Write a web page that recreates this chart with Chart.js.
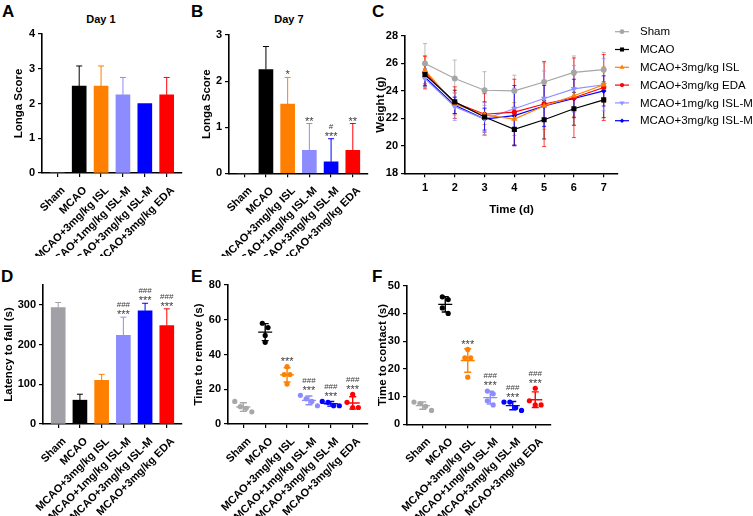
<!DOCTYPE html>
<html>
<head>
<meta charset="utf-8">
<script src="https://cdn.jsdelivr.net/npm/chart.js@4.4.1/dist/chart.umd.min.js"></script>
<style>
  body { margin: 0; background: #fff; }
  #fig { position: relative; width: 753px; height: 516px; overflow: hidden; font-family: "Liberation Sans", Arial, sans-serif; }
  #fig canvas { position: absolute; }
  .lbl { position: absolute; font-weight: bold; font-size: 17px; line-height: 17px; color: #000; }
  .ttl { position: absolute; font-weight: bold; font-size: 11px; line-height: 11px; width: 60px; text-align: center; color: #000; }
</style>
</head>
<body>
<div id="fig">
  <div class="lbl" style="left:2px;top:3px">A</div>
  <div class="lbl" style="left:191px;top:3px">B</div>
  <div class="lbl" style="left:372px;top:3px">C</div>
  <div class="lbl" style="left:1px;top:268px">D</div>
  <div class="lbl" style="left:191px;top:268px">E</div>
  <div class="lbl" style="left:372px;top:268px">F</div>
  <div class="ttl" style="left:71px;top:14px">Day 1</div>
  <div class="ttl" style="left:259px;top:14px">Day 7</div>
</div>
<script>
// group names shared by the bar / dot panels
const groups = ['Sham', 'MCAO', 'MCAO+3mg/kg ISL', 'MCAO+1mg/kg ISL-M', 'MCAO+3mg/kg ISL-M', 'MCAO+3mg/kg EDA'];

// A - Longa score day 1 (mean, SD)
const day1Score = [0, 2.5, 2.5, 2.25, 2.0, 2.25];
const day1SD = [0, 0.58, 0.58, 0.5, 0, 0.5];

// B - Longa score day 7
const day7Score = [0, 2.25, 1.5, 0.5, 0.25, 0.5];
const day7SD = [0, 0.5, 0.58, 0.58, 0.5, 0.58];
const day7Stars = ['', '', '*', '**', '***', '**'];
const day7Hash = ['', '', '', '', '#', ''];

// C - body weight over time
const days = [1, 2, 3, 4, 5, 6, 7];
const weightSeries = ['Sham', 'MCAO', 'MCAO+3mg/kg ISL', 'MCAO+3mg/kg EDA', 'MCAO+1mg/kg ISL-M', 'MCAO+3mg/kg ISL-M'];
const weightSham = [26.0, 24.9, 24.05, 24.0, 24.65, 25.35, 25.55];
const weightShamSD = [1.45, 1.35, 1.35, 1.15, 1.4, 1.2, 1.25];
const weightMCAO = [25.2, 23.2, 22.1, 21.2, 21.9, 22.7, 23.35];
const weightMCAOSD = [0.9, 0.85, 1.1, 1.15, 1.4, 1.2, 1.3];
const weightISL = [25.5, 23.05, 22.25, 21.95, 22.9, 23.65, 24.45];
const weightISLSD = [1.0, 0.8, 0.7, 1.2, 1.7, 1.5, 1.3];
const weightEDA = [25.35, 23.15, 22.3, 22.45, 23.05, 23.5, 24.25];
const weightEDASD = [1.2, 1.15, 1.5, 2.4, 3.1, 2.9, 2.4];
const weightISLM1 = [24.9, 22.85, 21.95, 22.7, 23.45, 24.15, 24.45];
const weightISLM1SD = [0.6, 1.0, 1.2, 1.5, 2.0, 1.7, 1.9];
const weightISLM3 = [25.0, 22.95, 21.95, 22.2, 22.9, 23.45, 24.0];
const weightISLM3SD = [0.6, 0.6, 0.8, 2.2, 1.5, 1.4, 1.1];

// D - rotarod latency
const latency = [293, 60, 110, 223, 285, 248];
const latencySD = [13, 15, 15, 46, 19, 42];
const latencyStars = ['', '', '', '***', '***', '***'];
const latencyHash = ['', '', '', '###', '###', '###'];

// E - adhesive removal, individual animals per group
const removeTimes = [[13, 10, 9, 7], [58, 55.5, 51, 47], [33, 28.5, 28.5, 23], [16.5, 14.5, 13, 10.5], [13, 12.5, 10.5, 10.5], [17, 12.5, 9.5, 9.5]];
const removeStars = ['', '', '***', '***', '***', '***'];
const removeHash = ['', '', '', '###', '###', '###'];

// F - time to contact
const contactTimes = [[8, 7.5, 6.5, 5], [46, 45, 42, 40], [27, 24, 24, 17], [12, 11, 8.5, 7], [8, 8, 6, 5], [13, 8.5, 7, 7]];
const contactStars = ['', '', '***', '***', '***', '***'];
const contactHash = ['', '', '', '###', '###', '###'];

const FONT = '"Liberation Sans", Arial, sans-serif';
const barColors = ['#a0a0a6', '#000000', '#ff8000', '#8c8cff', '#0000ff', '#ff0000'];
const dotColors = ['#a8a8a8', '#000000', '#ff8000', '#8c8cff', '#0000ff', '#ff0000'];

Chart.defaults.font.family = FONT;
Chart.defaults.color = '#000';
Chart.defaults.animation = false;
Chart.defaults.events = [];
Chart.defaults.plugins.legend.display = false;
Chart.defaults.plugins.tooltip.enabled = false;

function place(box) {
  const c = document.createElement('canvas');
  c.width = box.w; c.height = box.h;
  c.style.left = box.left + 'px';
  c.style.top = box.top + 'px';
  document.getElementById('fig').appendChild(c);
  return c;
}

function layoutFor(box) {
  return { padding: { left: 0, top: box.y0 - box.top, right: box.left + box.w - box.x1, bottom: 0 } };
}

function yAxis(box, title, min, max, step) {
  return {
    min: min, max: max,
    ticks: { stepSize: step, includeBounds: false, font: { size: 11, weight: 'bold' }, color: '#000', padding: 3 },
    grid: { drawOnChartArea: false, tickLength: 4, color: '#000', lineWidth: 1.2 },
    border: { color: '#000', width: 1.6 },
    title: { display: true, text: title, font: { size: 11.5, weight: 'bold' }, color: '#000',
             padding: { top: box.titleX - box.left - 6.9, bottom: 0 } },
    afterFit: s => { s.width = box.x0 - box.left; }
  };
}

function groupAxis(box) {
  return {
    type: 'linear', min: -0.7, max: 5.7, offset: false,
    afterBuildTicks: s => { s.ticks = groups.map((g, i) => ({ value: i })); },
    ticks: { callback: v => groups[v], autoSkip: false, minRotation: 45, maxRotation: 45,
             font: { size: 11, weight: 'bold' }, color: '#000', padding: 7, labelOffset: 6 },
    grid: { drawOnChartArea: false, offset: false, tickLength: 4, color: '#000', lineWidth: 1.2 },
    border: { color: '#000', width: 1.6 },
    afterFit: s => { s.height = box.top + box.h - box.y1; }
  };
}

// stars below, hashes above, sitting on top of each group (pixel top)
function drawMarks(chart, tops, stars, hashes) {
  const ctx = chart.ctx, x = chart.scales.x;
  ctx.save();
  ctx.fillStyle = '#3c3c3c';
  ctx.textAlign = 'center';
  ctx.textBaseline = 'alphabetic';
  tops.forEach((py, i) => {
    const px = x.getPixelForValue(i);
    if (stars[i]) { ctx.font = '11px ' + FONT; ctx.fillText(stars[i], px, py + 1); }
    if (hashes[i]) { ctx.font = '8px ' + FONT; ctx.fillText(hashes[i], px, py - 10); }
  });
  ctx.restore();
}

function barPanel(box, means, sds, title, yMax, step, stars, hashes) {
  return new Chart(place(box), {
    type: 'bar',
    data: { datasets: [{ data: means.map((v, i) => ({ x: i, y: v })), backgroundColor: barColors,
                         barThickness: 14, borderWidth: 0 }] },
    options: { responsive: false, layout: layoutFor(box),
               scales: { x: groupAxis(box), y: yAxis(box, title, 0, yMax, step) } },
    plugins: [{
      id: 'barExtras',
      afterDatasetsDraw(chart) {
        const { ctx, scales: { x, y } } = chart;
        ctx.save();
        ctx.lineWidth = 1;
        means.forEach((m, i) => {
          if (!sds[i]) return;
          const px = x.getPixelForValue(i);
          const y0 = y.getPixelForValue(m), y1 = y.getPixelForValue(m + sds[i]);
          ctx.strokeStyle = barColors[i];
          ctx.beginPath();
          ctx.moveTo(px, y0); ctx.lineTo(px, y1);
          ctx.moveTo(px - 3, y1); ctx.lineTo(px + 3, y1);
          ctx.stroke();
        });
        ctx.restore();
        if (stars) drawMarks(chart, means.map((m, i) => y.getPixelForValue(m + sds[i])), stars, hashes);
      }
    }]
  });
}

const mean = a => a.reduce((s, v) => s + v, 0) / a.length;
const sdev = a => { const m = mean(a); return Math.sqrt(a.reduce((s, v) => s + (v - m) * (v - m), 0) / (a.length - 1)); };

// put close values side by side like a column scatter
function spread(vals, tol) {
  const idx = vals.map((v, k) => k).sort((a, b) => vals[b] - vals[a]);
  const off = vals.map(() => 0);
  let run = [idx[0]];
  const flush = () => run.forEach((k, j) => { off[k] = (j - (run.length - 1) / 2) * 0.26; });
  for (let j = 1; j < idx.length; j++) {
    if (vals[run[run.length - 1]] - vals[idx[j]] < tol) run.push(idx[j]);
    else { flush(); run = [idx[j]]; }
  }
  flush();
  return off;
}

function dotPanel(box, sets, title, yMax, step, stars, hashes) {
  const tol = yMax * 0.05;
  const R = 2.6;
  return new Chart(place(box), {
    type: 'scatter',
    data: { datasets: sets.map((vals, i) => {
      const off = spread(vals, tol);
      return { data: vals.map((v, k) => ({ x: i + off[k], y: v })), backgroundColor: dotColors[i],
               pointRadius: R, borderWidth: 0 };
    }) },
    options: { responsive: false, layout: layoutFor(box),
               scales: { x: groupAxis(box), y: yAxis(box, title, 0, yMax, step) } },
    plugins: [{
      id: 'dotExtras',
      afterDatasetsDraw(chart) {
        const { ctx, scales: { x, y } } = chart;
        ctx.save();
        ctx.lineWidth = 1.4;
        const tops = [];
        sets.forEach((vals, i) => {
          const m = mean(vals), s = sdev(vals);
          const px = x.getPixelForValue(i);
          const ym = y.getPixelForValue(m), yt = y.getPixelForValue(m + s), yb = y.getPixelForValue(m - s);
          ctx.strokeStyle = dotColors[i];
          ctx.beginPath();
          ctx.moveTo(px - 7, ym); ctx.lineTo(px + 7, ym);
          ctx.moveTo(px, yt); ctx.lineTo(px, yb);
          ctx.moveTo(px - 3.5, yt); ctx.lineTo(px + 3.5, yt);
          ctx.moveTo(px - 3.5, yb); ctx.lineTo(px + 3.5, yb);
          ctx.stroke();
          tops.push(Math.min(yt, y.getPixelForValue(Math.max(...vals)) - R));
        });
        ctx.restore();
        drawMarks(chart, tops, stars, hashes);
      }
    }]
  });
}

// ---- A, B ----
barPanel({ left: 0, top: 0, w: 200, h: 256, x0: 42, x1: 182, y0: 34, y1: 173, titleX: 19 },
         day1Score, day1SD, 'Longa Score', 4, 1);
barPanel({ left: 187, top: 0, w: 200, h: 256, x0: 229, x1: 368, y0: 35, y1: 173.3, titleX: 207 },
         day7Score, day7SD, 'Longa Score', 3, 1, day7Stars, day7Hash);

// ---- C ----
const weightStyle = [
  { m: weightSham, sd: weightShamSD, color: '#a6a6a6', shape: 'circle', r: 3, rot: 0 },
  { m: weightMCAO, sd: weightMCAOSD, color: '#000000', shape: 'rect', r: 3.6, rot: 0 },
  { m: weightISL, sd: weightISLSD, color: '#ff8000', shape: 'triangle', r: 3.6, rot: 0 },
  { m: weightEDA, sd: weightEDASD, color: '#ff0000', shape: 'circle', r: 2.6, rot: 0 },
  { m: weightISLM1, sd: weightISLM1SD, color: '#9090ff', shape: 'triangle', r: 3.6, rot: 180 },
  { m: weightISLM3, sd: weightISLM3SD, color: '#0000ff', shape: 'rectRot', r: 2.8, rot: 0 }
];
const boxC = { left: 365, top: 0, w: 388, h: 256, x0: 405, x1: 618, y0: 36, y1: 173.3, titleX: 381 };
new Chart(place(boxC), {
  type: 'scatter',
  data: { datasets: weightStyle.map((s, k) => ({
    label: weightSeries[k],
    data: days.map((d, i) => ({ x: d, y: s.m[i] })),
    showLine: true, borderColor: s.color, backgroundColor: s.color, borderWidth: 1.2,
    pointStyle: s.shape, pointRadius: s.r, pointRotation: s.rot, pointBorderWidth: 0,
    order: k === 1 ? -1 : k
  })) },
  options: {
    responsive: false, layout: layoutFor(boxC),
    scales: {
      x: { type: 'linear', min: 0.33, max: 7.48,
           afterBuildTicks: s => { s.ticks = days.map(d => ({ value: d })); },
           ticks: { font: { size: 11, weight: 'bold' }, color: '#000', padding: 4, maxRotation: 0 },
           grid: { drawOnChartArea: false, tickLength: 4, color: '#000', lineWidth: 1.2 },
           border: { color: '#000', width: 1.6 },
           title: { display: true, text: 'Time (d)', font: { size: 11.5, weight: 'bold' }, color: '#000',
                    padding: { top: 0, bottom: 256 - 210 - 6.9 } },
           afterFit: s => { s.height = boxC.top + boxC.h - boxC.y1; } },
      y: yAxis(boxC, 'Weight (g)', 18, 28, 2)
    }
  },
  plugins: [{
    id: 'weightExtras',
    beforeDatasetsDraw(chart) {
      const { ctx, scales: { x, y } } = chart;
      ctx.save();
      ctx.lineWidth = 1;
      weightStyle.forEach(s => {
        ctx.strokeStyle = s.color;
        ctx.globalAlpha = 0.75;
        days.forEach((d, i) => {
          const px = x.getPixelForValue(d);
          const yt = y.getPixelForValue(s.m[i] + s.sd[i]), yb = y.getPixelForValue(s.m[i] - s.sd[i]);
          ctx.beginPath();
          ctx.moveTo(px, yt); ctx.lineTo(px, yb);
          ctx.moveTo(px - 2, yt); ctx.lineTo(px + 2, yt);
          ctx.moveTo(px - 2, yb); ctx.lineTo(px + 2, yb);
          ctx.stroke();
        });
      });
      ctx.restore();
    },
    afterDraw(chart) {
      const ctx = chart.ctx;
      ctx.save();
      weightStyle.forEach((s, k) => {
        const ly = 31.7 + 17.8 * k;
        ctx.strokeStyle = s.color; ctx.fillStyle = s.color; ctx.lineWidth = 1.2;
        ctx.beginPath(); ctx.moveTo(250, ly); ctx.lineTo(264, ly); ctx.stroke();
        Chart.helpers.drawPoint(ctx, { pointStyle: s.shape, rotation: s.rot, radius: s.r * 0.8, borderWidth: 0 }, 257, ly);
        ctx.fillStyle = '#000';
        ctx.font = '11.5px ' + FONT;
        ctx.textAlign = 'left'; ctx.textBaseline = 'middle';
        ctx.fillText(weightSeries[k], 275, ly + 0.5);
      });
      ctx.restore();
    }
  }]
});

// ---- D, E, F ----
barPanel({ left: 0, top: 255, w: 200, h: 261, x0: 43, x1: 182, y0: 285, y1: 424, titleX: 9 },
         latency, latencySD, 'Latency to fall (s)', 350, 100, latencyStars, latencyHash);
dotPanel({ left: 186, top: 255, w: 200, h: 261, x0: 228, x1: 368, y0: 285, y1: 424, titleX: 199 },
         removeTimes, 'Time to remove (s)', 80, 20, removeStars, removeHash);
dotPanel({ left: 365, top: 255, w: 205, h: 261, x0: 407, x1: 551, y0: 285.7, y1: 424.3, titleX: 383 },
         contactTimes, 'Time to contact (s)', 50, 10, contactStars, contactHash);
</script>
</body>
</html>
